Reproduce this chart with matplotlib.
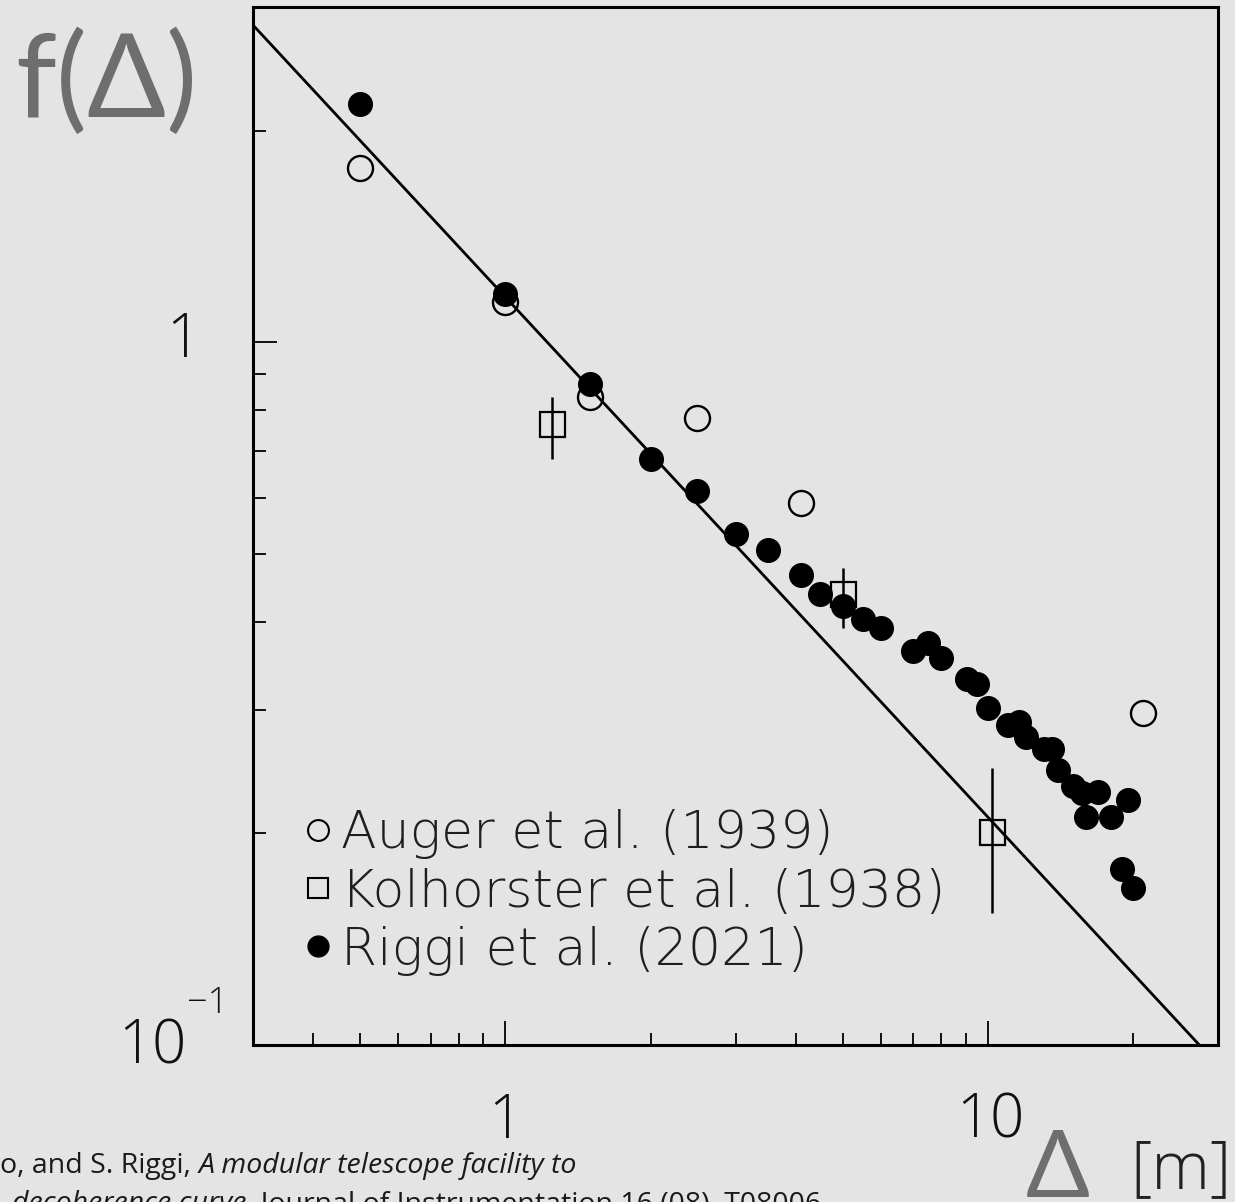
import numpy as np
import matplotlib.pyplot as plt
from matplotlib.lines import Line2D

# decoherence curve f(Delta), distance Delta in m
augerX = [0.5, 1.0, 1.5, 2.5, 4.1, 21.0]
augerY = [1.77, 1.14, 0.835, 0.78, 0.59, 0.297]

kolX = [1.25, 5.0, 10.2]
kolY = [0.765, 0.438, 0.201]
kolLo = [0.682, 0.392, 0.154]
kolHi = [0.835, 0.477, 0.248]

riggiX = [0.5, 1.0, 1.5, 2.0, 2.5, 3.0, 3.5, 4.1, 4.5, 5.0, 5.5, 6.0,
          7.0, 7.5, 8.0, 9.05, 9.5, 10.0, 11.0, 11.6, 12.0, 13.1, 13.6,
          14.0, 15.0, 15.7, 16.9, 16.0, 18.0, 19.5, 19.0, 20.0]
riggiY = [2.18, 1.17, 0.872, 0.682, 0.614, 0.534, 0.506, 0.467, 0.438,
          0.422, 0.404, 0.392, 0.364, 0.373, 0.355, 0.332, 0.326, 0.302,
          0.285, 0.288, 0.274, 0.264, 0.264, 0.246, 0.234, 0.228, 0.229,
          0.211, 0.211, 0.223, 0.178, 0.167]

legendLabels = ['Auger et al. (1939)', 'Kolhorster et al. (1938)', 'Riggi et al. (2021)']

# power law  f = A * Delta^-gamma
fitA = 1.16
fitGamma = 0.74

xlim = (0.3, 30)
ylim = (0.1, 3)

W, H = 1235, 1202
bg = '#e4e4e4'
light = ['Open Sans', 'DejaVu Sans']
wide = ['DejaVu Sans']
geo = ['Lato', 'DejaVu Sans']

def px(x, y):
    # pixel position (from top left) -> figure fraction
    return x / W, 1 - y / H

fig = plt.figure(figsize=(W / 100, H / 100), dpi=100, facecolor=bg)
l, b = px(253, 1045)
r, t = px(1218, 7)
ax = fig.add_axes([l, b, r - l, t - b], facecolor=bg)
ax.set_xscale('log')
ax.set_yscale('log')
ax.set_xlim(*xlim)
ax.set_ylim(*ylim)

# fit line
xx = np.logspace(np.log10(xlim[0]), np.log10(xlim[1]), 200)
ax.plot(xx, fitA * xx**(-fitGamma), color='k', lw=2.0, zorder=2)

ax.plot(augerX, augerY, ls='none', marker='o', ms=18, mfc='none', mec='k', mew=1.7, zorder=3)
kolErr = [np.array(kolY) - np.array(kolLo), np.array(kolHi) - np.array(kolY)]
ax.errorbar(kolX, kolY, yerr=kolErr, fmt='s', ms=18, mfc='none', mec='k', mew=1.6,
            ecolor='k', elinewidth=1.8, capsize=0, zorder=3)
ax.plot(riggiX, riggiY, ls='none', marker='o', ms=17, mfc='k', mec='k', zorder=4)

for s in ax.spines.values():
    s.set_linewidth(2.2)
ax.tick_params(which='both', direction='in', top=False, right=False,
               labelleft=False, labelbottom=False, width=1.3)
ax.tick_params(which='major', length=17)
ax.tick_params(which='minor', length=9)

handles = [Line2D([], [], ls='none', marker='o', ms=15, mfc='none', mec='k', mew=1.5),
           Line2D([], [], ls='none', marker='s', ms=15, mfc='none', mec='k', mew=1.5),
           Line2D([], [], ls='none', marker='o', ms=15, mfc='k', mec='k')]
leg = ax.legend(handles, legendLabels, loc='upper left', bbox_to_anchor=(0.056, 0.227),
                frameon=False, handlelength=0.43, handletextpad=0.22, labelspacing=0.16,
                borderpad=0, borderaxespad=0,
                prop=dict(family=wide, size=37.5, weight='light'))
for txt in leg.get_texts():
    txt.set_color('#1e1e1e')

# tick labels
tk = dict(family=light, weight='light', color='#111111')
fig.text(*px(200, 341), '1', ha='right', va='center', size=43, **tk)
fig.text(*px(186, 1063), '10', ha='right', va='baseline', size=43, **tk)
fig.text(*px(187, 1013), '\u22121', ha='left', va='baseline', size=26, **tk)
fig.text(*px(505, 1138), '1', ha='center', va='baseline', size=43, **tk)
fig.text(*px(990, 1138), '10', ha='center', va='baseline', size=43, **tk)

# axis titles
fig.text(*px(15, 117), 'f(\u0394)', ha='left', va='baseline', size=84,
         family=geo, color='#6e6e6e')
fig.text(*px(1026, 1197), '\u0394', ha='left', va='baseline', size=68,
         family=geo, color='#6e6e6e')
fig.text(*px(1232, 1188), '[m]', ha='right', va='baseline', size=48,
         family=light, weight='light', color='#222222')

# reference line under the chart
fig.canvas.draw()
rend = fig.canvas.get_renderer()
cit = ['Open Sans', 'DejaVu Sans']

def runText(x, y, parts, size=20.5):
    for s, style in parts:
        tt = fig.text(*px(x, y), s, ha='left', va='baseline', size=size,
                      family=cit, style=style, color='#1a1a1a')
        x = tt.get_window_extent(renderer=rend).x1

runText(0, 1173, [('o, and S. Riggi, ', 'normal'), ('A modular telescope facility to', 'italic')])
runText(12, 1211, [('decoherence curve', 'italic'),
                   (', Journal of Instrumentation 16 (08), T08006', 'normal')])

fig.savefig('out.png', dpi=100, facecolor=bg)
